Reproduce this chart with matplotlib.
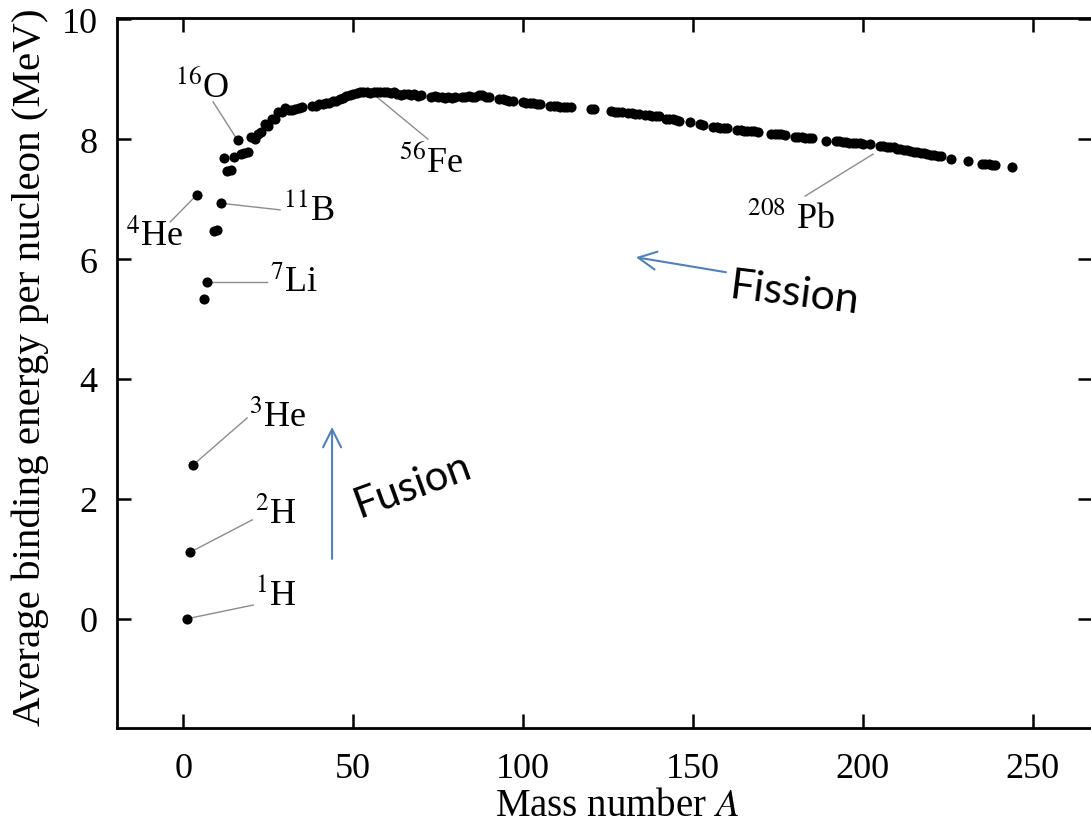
import numpy as np
import matplotlib
matplotlib.use("Agg")
import matplotlib.pyplot as plt

plt.rcParams['font.family'] = 'serif'
plt.rcParams['font.serif'] = ['Liberation Serif', 'DejaVu Serif']
plt.rcParams['mathtext.fontset'] = 'stix'

# binding energy per nucleon
mass_number = [1, 2, 3, 4, 6, 7, 9, 10, 11, 12, 13, 14, 15, 16, 17, 18, 19, 20,
               21, 22, 23, 24, 25, 26, 27, 28, 29, 30, 31, 32, 33, 34, 35, 38, 39,
               40, 41, 42, 43, 44, 45, 46, 47, 48, 49, 50, 51, 52, 53, 54, 55, 56,
               57, 58, 59, 60, 61, 62, 63, 64, 65, 66, 67, 68, 69, 70, 73, 74, 75,
               76, 77, 78, 79, 80, 82, 83, 84, 85, 86, 87, 88, 89, 90, 93, 94, 95,
               96, 97, 100, 101, 102, 103, 104, 105, 108, 109, 110, 111, 112, 113,
               114, 120, 121, 126, 127, 128, 129, 131, 132, 133, 134, 136, 137, 138,
               139, 140, 142, 143, 144, 145, 146, 149, 152, 153, 156, 157, 158, 159,
               160, 163, 164, 165, 166, 167, 168, 169, 173, 174, 175, 176, 177, 180,
               181, 182, 183, 184, 185, 189, 192, 193, 194, 195, 196, 197, 198, 199,
               200, 202, 205, 206, 207, 208, 209, 210, 211, 212, 213, 214, 215, 216,
               217, 218, 219, 220, 221, 222, 223, 226, 231, 235, 236, 237, 238, 239,
               244]
binding = [0.00, 1.11, 2.57, 7.07, 5.33, 5.61, 6.46, 6.48, 6.93, 7.68, 7.47, 7.48,
           7.70, 7.98, 7.75, 7.77, 7.78, 8.03, 8.00, 8.08, 8.11, 8.26, 8.22, 8.33,
           8.33, 8.45, 8.45, 8.52, 8.48, 8.49, 8.50, 8.52, 8.53, 8.56, 8.56, 8.58,
           8.58, 8.61, 8.61, 8.63, 8.63, 8.67, 8.68, 8.72, 8.73, 8.76, 8.77, 8.78,
           8.78, 8.79, 8.77, 8.79, 8.78, 8.79, 8.78, 8.78, 8.77, 8.79, 8.75, 8.74,
           8.76, 8.76, 8.74, 8.75, 8.72, 8.73, 8.70, 8.72, 8.70, 8.71, 8.69, 8.71,
           8.69, 8.71, 8.71, 8.70, 8.72, 8.71, 8.71, 8.73, 8.73, 8.71, 8.71, 8.67,
           8.67, 8.65, 8.64, 8.64, 8.62, 8.61, 8.61, 8.60, 8.59, 8.58, 8.55, 8.55,
           8.55, 8.54, 8.54, 8.53, 8.53, 8.51, 8.50, 8.47, 8.46, 8.46, 8.45, 8.43,
           8.43, 8.42, 8.42, 8.40, 8.40, 8.39, 8.38, 8.38, 8.34, 8.33, 8.33, 8.32,
           8.31, 8.28, 8.25, 8.24, 8.21, 8.20, 8.19, 8.19, 8.18, 8.15, 8.15, 8.14,
           8.14, 8.13, 8.13, 8.12, 8.09, 8.09, 8.08, 8.08, 8.07, 8.04, 8.03, 8.03,
           8.02, 8.01, 8.01, 7.97, 7.96, 7.96, 7.95, 7.95, 7.94, 7.94, 7.93, 7.93,
           7.92, 7.91, 7.88, 7.88, 7.87, 7.87, 7.86, 7.84, 7.83, 7.82, 7.81, 7.80,
           7.79, 7.78, 7.77, 7.76, 7.75, 7.74, 7.73, 7.72, 7.71, 7.67, 7.63, 7.59,
           7.59, 7.58, 7.57, 7.57, 7.53]

x_ticks = [0, 50, 100, 150, 200, 250]
y_ticks = [0, 2, 4, 6, 8, 10]

# label, point the line starts at, line end, text spot, alignment
labels = [
    (r'$^{1}$H', (1, 0.0), (20.6, 0.23), (21.0, 0.40), 'left'),
    (r'$^{2}$H', (2, 1.11), (20.3, 1.65), (21.0, 1.75), 'left'),
    (r'$^{3}$He', (3, 2.57), (18.8, 3.35), (19.5, 3.37), 'left'),
    (r'$^{7}$Li', (7, 5.61), (24.7, 5.61), (25.5, 5.62), 'left'),
    (r'$^{11}$B', (11, 6.93), (28.5, 6.82), (29.5, 6.82), 'left'),
    (r'$^{4}$He', (4, 7.07), (-3.8, 6.62), (0.2, 6.38), 'right'),
    (r'$^{16}$O', (16, 7.98), (8.8, 8.62), (-2.5, 8.88), 'left'),
    (r'$^{56}$Fe', (57, 8.70), (72, 8.00), (63.5, 7.63), 'left'),
    (r'$^{208}$ Pb', (203, 7.75), (183, 7.05), (166, 6.67), 'left'),
]

blue = '#4f81bd'

fig = plt.figure(figsize=(10.91, 8.28), dpi=100)
ax = fig.add_axes([0.1072, 0.1196, 0.894, 0.8575])

ax.plot(mass_number, binding, 'o', color='black', markersize=7.3, markeredgewidth=0)

for txt, p, e, t, ha in labels:
    ax.plot([p[0], e[0]], [p[1], e[1]], color='#8c8c8c', lw=1.0, zorder=1)
    ax.text(t[0], t[1], txt, fontsize=26, ha=ha, va='center')

# fusion / fission arrows
ax.annotate('', xy=(43.8, 3.2), xytext=(43.8, 1.0),
            arrowprops=dict(arrowstyle='->,head_length=1.3,head_width=0.65',
                            color=blue, lw=1.5, shrinkA=0, shrinkB=0))
ax.annotate('', xy=(133.2, 6.03), xytext=(159.7, 5.78),
            arrowprops=dict(arrowstyle='->,head_length=1.3,head_width=0.65',
                            color=blue, lw=1.5, shrinkA=0, shrinkB=0))
ax.text(67.4, 2.23, 'Fusion', family='Lato', fontsize=30, rotation=20,
        ha='center', va='center', rotation_mode='anchor')
ax.text(179.7, 5.43, 'Fission', family='Lato', fontsize=31, rotation=-7,
        ha='center', va='center', rotation_mode='anchor')

ax.set_xlim(-19.5, 267.5)
ax.set_ylim(-1.82, 10.02)
ax.set_xticks(x_ticks)
ax.set_yticks(y_ticks)
ax.tick_params(direction='in', top=True, right=True, length=10, width=1.8,
               labelsize=26)
ax.tick_params(axis='x', pad=17)
ax.tick_params(axis='y', pad=14)
for s in ax.spines.values():
    s.set_linewidth(2.0)

ax.set_xlabel(r'Mass number $A$', fontsize=28)
ax.set_ylabel('Average binding energy per nucleon (MeV)', fontsize=29.5)
ax.xaxis.set_label_coords(0.513, -0.083)
ax.yaxis.set_label_coords(-0.07, 0.51)

fig.savefig('out.png', dpi=100)
